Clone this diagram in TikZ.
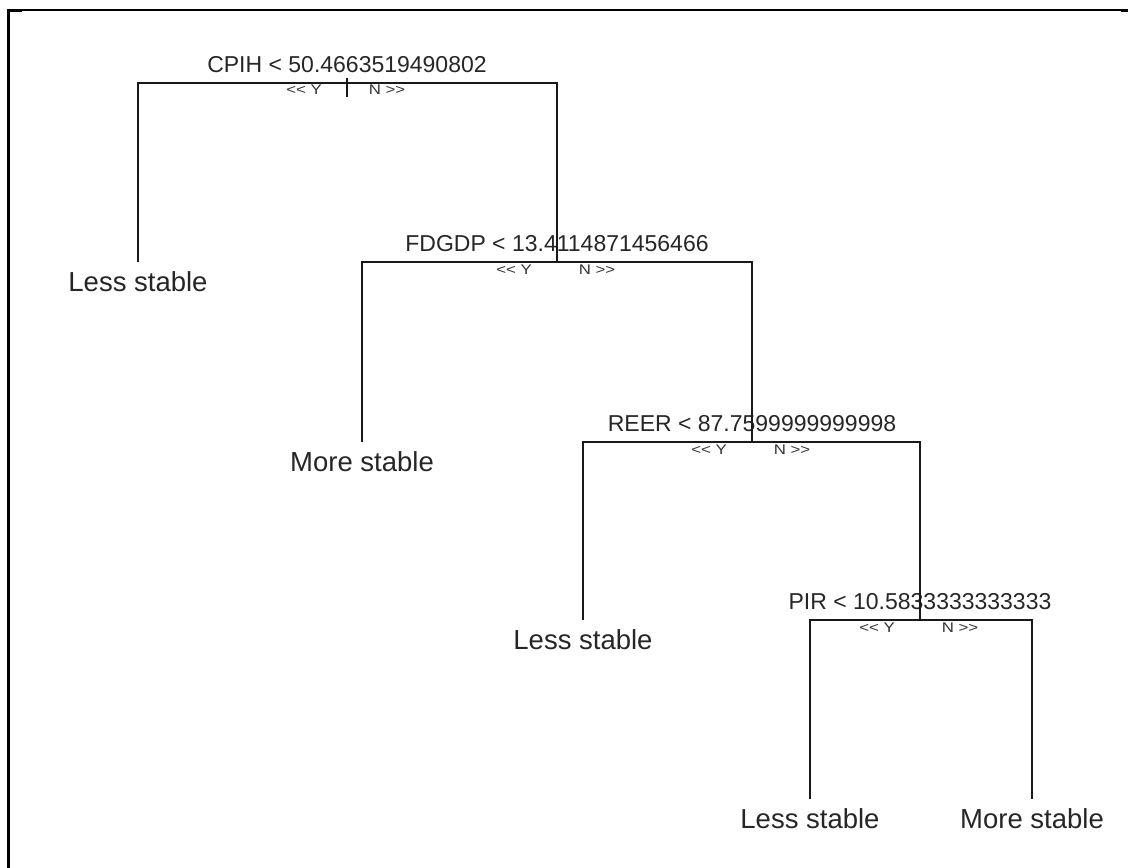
\documentclass[tikz,border=0pt]{standalone}
\usepackage{fontspec}
\setmainfont{Liberation Sans}
\newfontfamily\ynfont[FakeStretch=1.2]{Liberation Sans}
\usetikzlibrary{positioning}

\begin{document}
\begin{tikzpicture}[
    x=1pt, y=-1pt,
    split/.style={anchor=base, inner sep=0pt, font=\fontsize{23}{26}\selectfont, text=black!85},
    leaf/.style={anchor=base, inner sep=0pt, font=\fontsize{27.5}{30}\selectfont, text=black!85},
    yn/.style={anchor=north, inner sep=0pt, font=\ynfont\fontsize{14}{15}\selectfont, text=black!80},
    branch/.style={line width=1.5pt, black!90}
]
    \useasboundingbox (0,0) rectangle (1128,868);
    % frame
    \draw[line width=1.5pt] (8,10) -- (1128,10);
    \draw[line width=3pt] (8.5,9) -- (8.5,868);
    \draw[line width=2.5pt] (8,11) -- (22,11);
    \draw[line width=2.5pt] (1121,11) -- (1128,11);

    % split points and leaf tips
    \coordinate (cpih) at (347,83);
    \coordinate (fdgdp) at (557,262);
    \coordinate (reer) at (752,442);
    \coordinate (pir) at (920,620);
    \coordinate (leafA) at (138,262);
    \coordinate (leafB) at (362,442);
    \coordinate (leafC) at (583,620);
    \coordinate (leafD) at (810,799);
    \coordinate (leafE) at (1032,799);
    \coordinate (stubtop) at (347,78);
    \coordinate (stubbot) at (347,97);

    % split labels
    \node[split] (cpihlbl) at (347,72) {CPIH < 50.4663519490802};
    \node[split] (fdgdplbl) at (557,251) {FDGDP < 13.4114871456466};
    \node[split] (reerlbl) at (752,431) {REER < 87.7599999999998};
    \node[split] (pirlbl) at (920,609) {PIR < 10.5833333333333};

    % yes / no labels
    \node[yn] (cpihy) at (304,85) {<< Y};
    \node[yn] (cpihn) at (387,85) {N >>};
    \node[yn] (fdgdpy) at (514,265) {<< Y};
    \node[yn] (fdgdpn) at (597,265) {N >>};
    \node[yn] (reery) at (709,445) {<< Y};
    \node[yn] (reern) at (792,445) {N >>};
    \node[yn] (piry) at (877,623) {<< Y};
    \node[yn] (pirn) at (960,623) {N >>};

    % leaves
    \node[leaf] (lessA) at (138,291) {Less stable};
    \node[leaf] (moreB) at (362,471) {More stable};
    \node[leaf] (lessC) at (583,649) {Less stable};
    \node[leaf] (lessD) at (810,828) {Less stable};
    \node[leaf] (moreE) at (1032,828) {More stable};

    % branches
    \draw[branch] (stubtop) -- (stubbot);
    \draw[branch] (cpih) -| (leafA);
    \draw[branch] (cpih) -| (fdgdp);
    \draw[branch] (fdgdp) -| (leafB);
    \draw[branch] (fdgdp) -| (reer);
    \draw[branch] (reer) -| (leafC);
    \draw[branch] (reer) -| (pir);
    \draw[branch] (pir) -| (leafD);
    \draw[branch] (pir) -| (leafE);
\end{tikzpicture}
\end{document}
